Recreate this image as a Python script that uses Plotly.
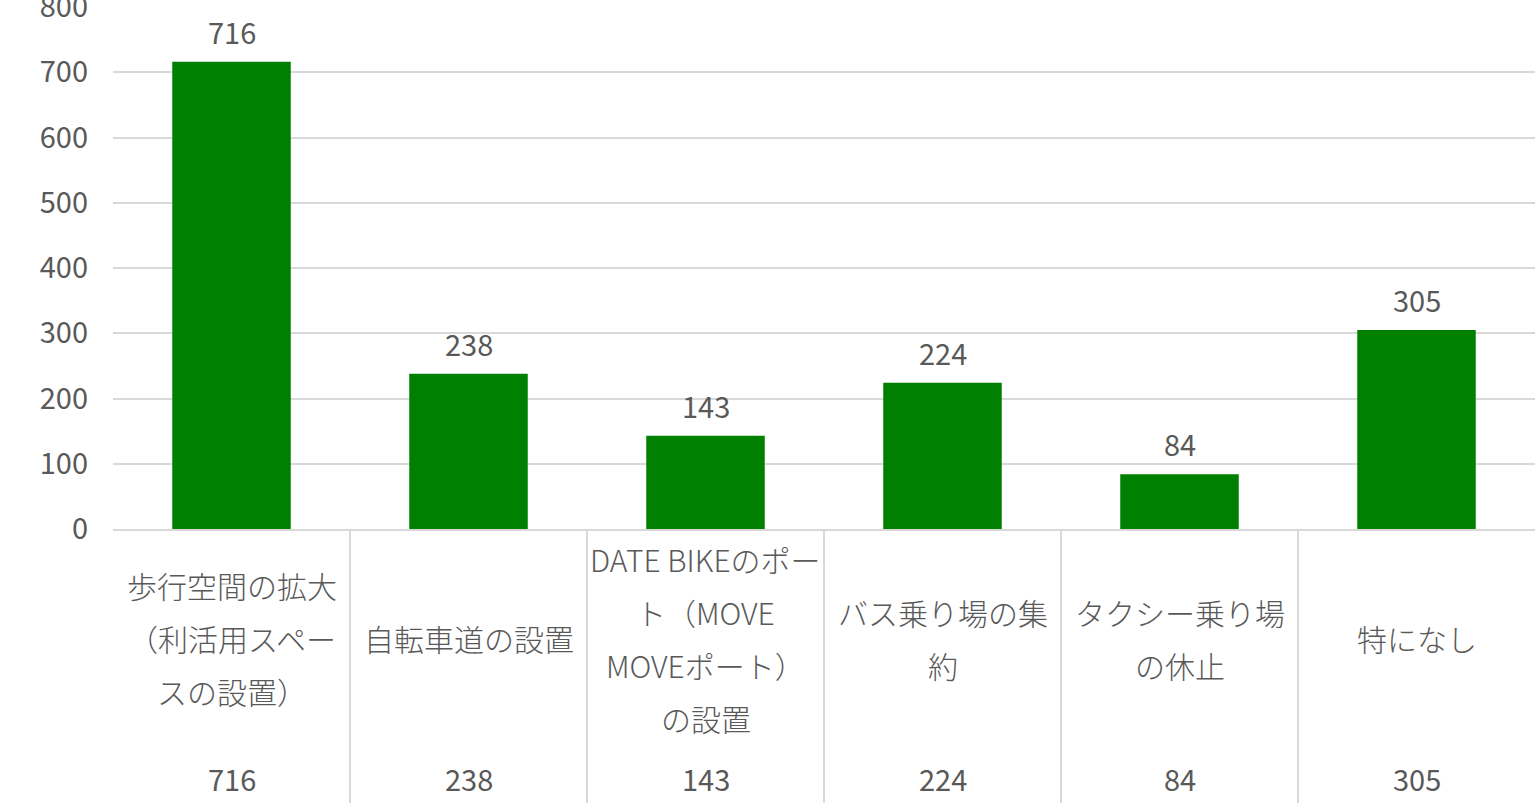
import plotly.graph_objects as go

categories = [
    ["歩行空間の拡大", "（利活用スペー", "スの設置）"],
    ["自転車道の設置"],
    ["DATE BIKEのポー", "ト（MOVE", "MOVEポート）", "の設置"],
    ["バス乗り場の集", "約"],
    ["タクシー乗り場", "の休止"],
    ["特になし"],
]
values = [716, 238, 143, 224, 84, 305]
y_ticks = [0, 100, 200, 300, 400, 500, 600, 700, 800]

FONT = "Noto Sans CJK JP"
TXT = "#595959"
GRID = "#d9d9d9"
W, H = 1539, 803
M_L, M_R, M_T, M_B = 113, 4, 7, 274
PH = H - M_T - M_B

def py_to_paper(py):
    return (H - M_B - py) / PH

x_idx = list(range(len(values)))
fig = go.Figure()
fig.add_trace(go.Bar(x=x_idx, y=values, width=0.5, marker=dict(color="#008000", line=dict(width=0)),
                     hoverinfo="skip"))

ann = []
# data labels above bars
for i, v in enumerate(values):
    ann.append(dict(x=i, y=v, xref="x", yref="y", text=str(v), showarrow=False,
                    yanchor="middle", yshift=31, font=dict(family=FONT, size=29, color=TXT)))
# category labels (data-table style)
center_py = 638
line_gap = 53
for i, lines in enumerate(categories):
    n = len(lines)
    for j, line in enumerate(lines):
        py = center_py + (j - (n - 1) / 2) * line_gap
        ann.append(dict(x=i, y=py_to_paper(py), xref="x", yref="paper", text=line, showarrow=False,
                        yanchor="middle", font=dict(family=FONT, size=30, color=TXT, weight=300)))
    ann.append(dict(x=i, y=py_to_paper(778), xref="x", yref="paper", text=str(values[i]), showarrow=False,
                    yanchor="middle", font=dict(family=FONT, size=29, color=TXT)))

shapes = []
for k in range(1, len(values)):
    shapes.append(dict(type="line", xref="x", yref="paper", x0=k - 0.5, x1=k - 0.5,
                       y0=py_to_paper(530), y1=py_to_paper(H + 2), line=dict(color=GRID, width=2)))

fig.update_layout(
    width=W, height=H,
    margin=dict(l=M_L, r=M_R, t=M_T, b=M_B, autoexpand=False),
    paper_bgcolor="white", plot_bgcolor="white",
    showlegend=False,
    annotations=ann, shapes=shapes,
    xaxis=dict(range=[-0.5, len(values) - 0.5], showticklabels=False, ticks="", automargin=False,
               showgrid=False, zeroline=False, showline=True, linecolor=GRID, linewidth=2),
    yaxis=dict(range=[0, 800], tickvals=y_ticks, showgrid=True, gridcolor=GRID, gridwidth=2,
               zeroline=False, showline=False, ticks="", ticklabelstandoff=24, automargin=False,
               ticklabeloverflow="allow",
               tickfont=dict(family=FONT, size=29, color=TXT)),
)
fig.write_html("out.html", config={"displayModeBar": False},
               post_script="document.body.style.margin='0';document.body.style.overflow='hidden';")
